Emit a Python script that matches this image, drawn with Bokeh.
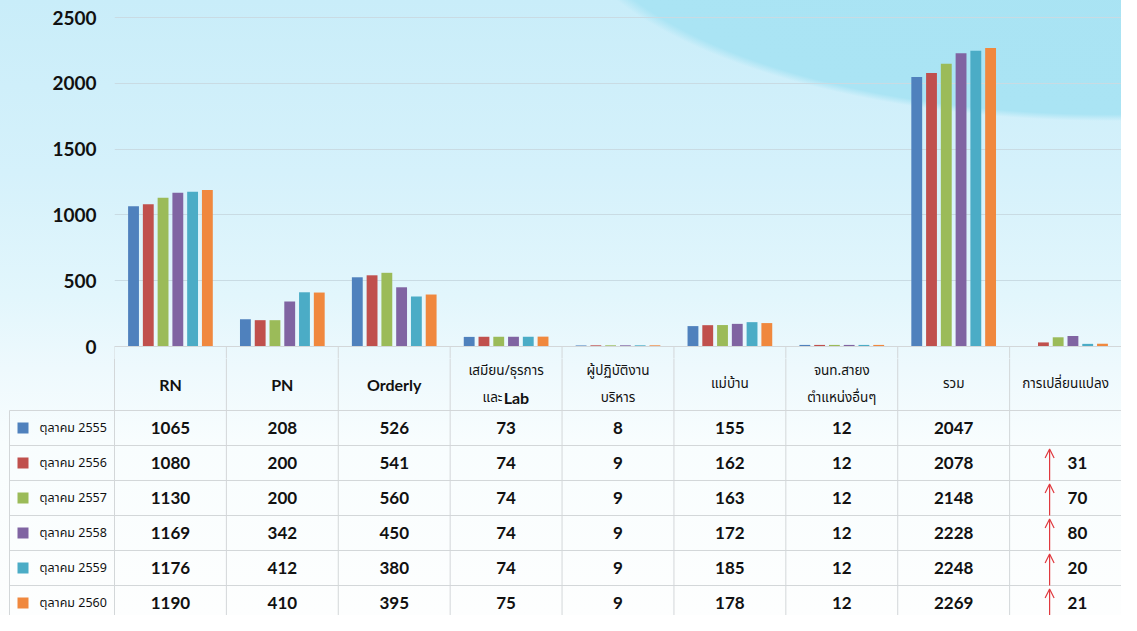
import re
import math
import unicodedata

from bokeh.plotting import figure
from bokeh.models import Range1d, Span, FixedTicker, Arrow, OpenHead
from bokeh.core.properties import value
from bokeh.embed import file_html
from bokeh.resources import INLINE

# ---------------- data ----------------
categories = ["RN", "PN", "Orderly", "เสมียน/ธุรการ\nและLab", "ผู้ปฏิบัติงาน\nบริหาร",
              "แม่บ้าน", "จนท.สายง\nตำแหน่งอื่นๆ", "รวม", "การเปลี่ยนแปลง"]
series_labels = ["ตุลาคม 2555", "ตุลาคม 2556", "ตุลาคม 2557",
                 "ตุลาคม 2558", "ตุลาคม 2559", "ตุลาคม 2560"]
oct_2555 = [1065, 208, 526, 73, 8, 155, 12, 2047, None]
oct_2556 = [1080, 200, 541, 74, 9, 162, 12, 2078, 31]
oct_2557 = [1130, 200, 560, 74, 9, 163, 12, 2148, 70]
oct_2558 = [1169, 342, 450, 74, 9, 172, 12, 2228, 80]
oct_2559 = [1176, 412, 380, 74, 9, 185, 12, 2248, 20]
oct_2560 = [1190, 410, 395, 75, 9, 178, 12, 2269, 21]
series_values = [oct_2555, oct_2556, oct_2557, oct_2558, oct_2559, oct_2560]
y_ticks = [0, 500, 1000, 1500, 2000, 2500]

# ---------------- styles ----------------
colors = ["#4F81BD", "#C0504D", "#9BBB59", "#8064A2", "#4BACC6", "#F0883E"]
GRID = "#c9dbe3"
TABLE_LINE = "#d3d7d9"
ARROW = "#e0383e"
TXT = "#111111"
NUM_FONT = "Lato"
THAI_FONT = "Noto Sans Thai, Noto Sans Thai UI, Tahoma, sans-serif"

W = 1121
H_TOTAL = 615
LEFT = 114
NCAT = len(categories)
COL = (W - LEFT) / NCAT
H1 = 358
Y0_PX = 346
YTOP_PX = 17
HEADER_H = 64
ROW_H = 35
H2 = H_TOTAL - H1
PITCH = 0.132
BAR_W = 0.097

upp = y_ticks[-1] / (Y0_PX - YTOP_PX)
y_start = -(H1 - Y0_PX) * upp
y_end = y_ticks[-1] + YTOP_PX * upp

LIN = ("linear-gradient(180deg, #c9edf9 0%, #d5f1fb 28%, #e2f6fc 48%, #eef9fd 60%, "
       "#f8fdfe 72%, #fdfefe 100%)")
RAD = ("radial-gradient(556px 221px at 1112px -100px, #a9e3f3 0%, #aae4f4 97%, "
       "rgba(170,228,244,0) 100%)")

# ---------------- chart ----------------
p1 = figure(width=W, height=H1, x_range=Range1d(0, NCAT), y_range=Range1d(y_start, y_end),
            output_backend="svg", toolbar_location=None, x_axis_location=None,
            min_border_left=LEFT, min_border_right=0, min_border_top=0, min_border_bottom=0)
p1.border_fill_color = None
p1.background_fill_color = None
p1.outline_line_color = None
p1.xgrid.visible = False
p1.ygrid.grid_line_color = GRID
p1.ygrid.grid_line_width = 1
ax = p1.yaxis[0]
ax.ticker = FixedTicker(ticks=y_ticks)
ax.axis_line_color = None
ax.major_tick_line_color = None
ax.minor_tick_line_color = None
ax.major_tick_out = 0
ax.major_tick_in = 0
ax.major_label_standoff = 18
ax.major_label_text_font = NUM_FONT
ax.major_label_text_font_style = "bold"
ax.major_label_text_font_size = "19px"
ax.major_label_text_color = TXT
p1.styles = {"background-image": RAD + ", " + LIN,
             "background-size": "%dpx %dpx" % (W, H_TOTAL),
             "background-position": "0px 0px",
             "background-repeat": "no-repeat"}

nser = len(series_values)
for j, (vals, c) in enumerate(zip(series_values, colors)):
    xs = [i + 0.5 + (j - (nser - 1) / 2) * PITCH for i in range(NCAT)]
    tops = [v if v is not None else math.nan for v in vals]
    p1.vbar(x=xs, top=tops, bottom=0, width=BAR_W, fill_color=c, line_color=None)

p1.add_layout(Span(location=0, dimension="width", line_color=TABLE_LINE, line_width=1))
p1.segment(x0=list(range(NCAT + 1)), y0=[0] * (NCAT + 1),
           x1=list(range(NCAT + 1)), y1=[y_start] * (NCAT + 1),
           line_color=TABLE_LINE, line_width=1)

# ---------------- table ----------------
hdr_top_units = HEADER_H / ROW_H
t_top = -(HEADER_H - (H1 - Y0_PX)) / ROW_H
t_bottom = t_top + H2 / ROW_H
p2 = figure(width=W, height=H2, x_range=Range1d(-LEFT / COL, NCAT),
            y_range=Range1d(t_bottom, t_top),
            output_backend="svg", toolbar_location=None,
            x_axis_location=None, y_axis_location=None,
            min_border_left=0, min_border_right=0, min_border_top=0, min_border_bottom=0)
p2.border_fill_color = None
p2.background_fill_color = None
p2.outline_line_color = None
p2.grid.visible = False
p2.styles = {"background-image": LIN,
             "background-size": "%dpx %dpx" % (W, H_TOTAL),
             "background-position": "0px -%dpx" % H1,
             "background-repeat": "no-repeat"}

leg_left = -(LEFT - 9) / COL
nrow = len(series_labels)
hy = list(range(0, nrow + 1))
p2.segment(x0=[leg_left] * len(hy), y0=hy, x1=[NCAT] * len(hy), y1=hy,
           line_color=TABLE_LINE, line_width=1)
p2.segment(x0=[leg_left], y0=[0], x1=[leg_left], y1=[nrow + 1], line_color=TABLE_LINE, line_width=1)
p2.segment(x0=list(range(NCAT + 1)), y0=[-hdr_top_units] * (NCAT + 1),
           x1=list(range(NCAT + 1)), y1=[nrow + 1] * (NCAT + 1),
           line_color=TABLE_LINE, line_width=1)

# header
LAT_SIZE = 16
THAI_SIZE = 13.5


def est_width(run, latin):
    if latin:
        return len(run) * 0.54 * LAT_SIZE
    n = sum(1 for ch in run if unicodedata.category(ch) != "Mn")
    return n * 0.52 * THAI_SIZE


hx_l, hy_l, ht_l, hal_l = [], [], [], []
hx_t, hy_t, ht_t, hal_t = [], [], [], []
center_y = -hdr_top_units / 2
line_off = 13.5 / ROW_H
base_off = 5.5 / ROW_H
for i, cat in enumerate(categories):
    lines = cat.split("\n")
    n = len(lines)
    for k, line in enumerate(lines):
        yy = center_y + (k - (n - 1) / 2) * 2 * line_off + base_off
        runs = re.findall(r"[A-Za-z]+|[^A-Za-z]+", line)
        if len(runs) == 1:
            latin = bool(re.match(r"[A-Za-z]", runs[0]))
            (hx_l if latin else hx_t).append(i + 0.5)
            (hy_l if latin else hy_t).append(yy)
            (ht_l if latin else ht_t).append(runs[0])
            (hal_l if latin else hal_t).append("center")
        else:
            widths = [est_width(r, bool(re.match(r"[A-Za-z]", r))) for r in runs]
            xpx = (i + 0.5) * COL - sum(widths) / 2
            for r, w in zip(runs, widths):
                latin = bool(re.match(r"[A-Za-z]", r))
                (hx_l if latin else hx_t).append(xpx / COL)
                (hy_l if latin else hy_t).append(yy)
                (ht_l if latin else ht_t).append(r)
                (hal_l if latin else hal_t).append("left")
                xpx += w

p2.text(x=hx_l, y=hy_l, text=ht_l, text_align=hal_l, text_baseline="alphabetic",
        text_font=value(NUM_FONT), text_font_style="bold", text_font_size="%dpx" % LAT_SIZE,
        text_color=TXT)
p2.text(x=hx_t, y=hy_t, text=ht_t, text_align=hal_t, text_baseline="alphabetic",
        text_font=value(THAI_FONT), text_font_size="%.1fpx" % THAI_SIZE, text_color=TXT)

# legend column
row_y = [r + 0.5 for r in range(nrow)]
p2.scatter(x=[leg_left + 13.5 / COL] * nrow, y=row_y, marker="square", size=11,
           fill_color=colors, line_color=None)
p2.text(x=[leg_left + 30 / COL] * nrow, y=row_y, text=series_labels, text_align="left",
        text_baseline="middle", text_font=value(THAI_FONT), text_font_size="12.5px",
        text_color=TXT)

# values
vx, vy, vt = [], [], []
cx, cy, ct = [], [], []
for r, vals in enumerate(series_values):
    for i, v in enumerate(vals):
        if v is None:
            continue
        if i == NCAT - 1:
            cx.append(i + 58 / COL)
            cy.append(r + 0.5)
            ct.append(str(v))
        else:
            vx.append(i + 0.5)
            vy.append(r + 0.5)
            vt.append(str(v))
p2.text(x=vx, y=vy, text=vt, text_align="center", text_baseline="middle",
        text_font=value(NUM_FONT), text_font_style="bold", text_font_size="17px", text_color=TXT)
p2.text(x=cx, y=cy, text=ct, text_align="left", text_baseline="middle",
        text_font=value(NUM_FONT), text_font_style="bold", text_font_size="17px", text_color=TXT)

# change arrows
arrow_x = NCAT - 1 + 40 / COL
for r, vals in enumerate(series_values):
    ch = vals[-1]
    if ch is not None and ch > 0:
        p2.add_layout(Arrow(end=OpenHead(size=9, line_color=ARROW, line_width=1.2),
                            x_start=arrow_x, y_start=r + 1, x_end=arrow_x, y_end=r + 0.1,
                            line_color=ARROW, line_width=1.2))

open("out.html", "w").write(file_html([p1, p2], INLINE))
